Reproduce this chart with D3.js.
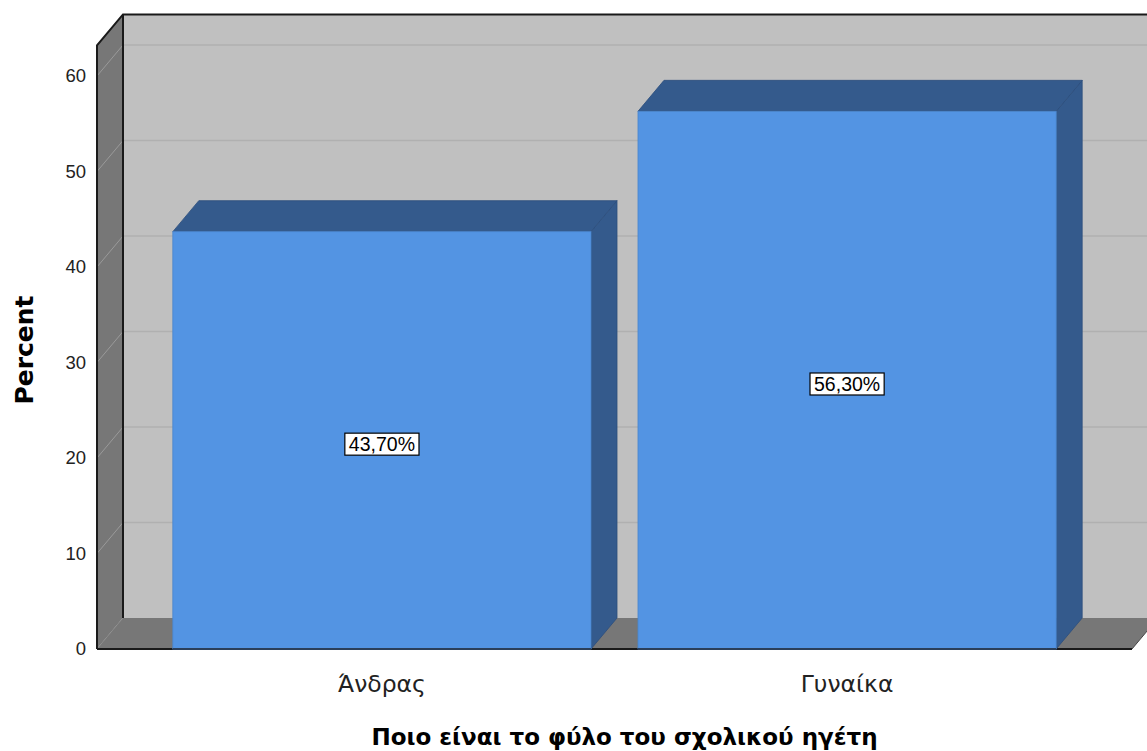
<!DOCTYPE html>
<html><head><meta charset="utf-8">
<script src="https://cdn.jsdelivr.net/npm/d3@7"></script>
<style>body{margin:0;background:#fff;}svg{display:block;}</style>
</head><body>
<svg id="chart" width="1147" height="751"></svg>
<script>
const categories = ["Άνδρας", "Γυναίκα"];
const percentValues = [43.7, 56.3];
const valueLabels = ["43,70%", "56,30%"];
const yTicks = [0, 10, 20, 30, 40, 50, 60];
const xTitle = "Ποιο είναι το φύλο του σχολικού ηγέτη";
const yTitle = "Percent";

const svg = d3.select("#chart");
const DX = 26, DY = -31;
const y = d3.scaleLinear().domain([0, 60]).range([649, 76]);
const yMaxWall = 63.2;
const x = d3.scaleBand().domain(categories).range([97, 1132]).paddingInner(0.101).paddingOuter(0.163);
const xL = 97, xR = 1132;
const y0 = y(0), yTop = y(yMaxWall);

const pts = a => a.map(p => p.join(",")).join(" ");

// back wall
svg.append("polygon").attr("points", pts([[xL+DX, yTop+DY],[1200, yTop+DY],[1200, y0+DY],[xL+DX, y0+DY]]))
  .attr("fill", "#c0c0c0");
// back wall gridlines
svg.selectAll(".bg").data(yTicks.filter(d => d > 0)).enter().append("line")
  .attr("x1", xL+DX).attr("x2", 1200).attr("y1", d => y(d)+DY).attr("y2", d => y(d)+DY)
  .attr("stroke", "#b0b0b0").attr("stroke-width", 1.5);
// left wall
svg.append("polygon").attr("points", pts([[xL, yTop],[xL+DX, yTop+DY],[xL+DX, y0+DY],[xL, y0]]))
  .attr("fill", "#777777");
svg.selectAll(".lg").data(yTicks).enter().append("line")
  .attr("x1", xL).attr("x2", xL+DX).attr("y1", d => y(d)).attr("y2", d => y(d)+DY)
  .attr("stroke", "#9a9a9a").attr("stroke-width", 1);
// floor
svg.append("polygon").attr("points", pts([[xL, y0],[xL+DX, y0+DY],[1200, y0+DY],[xR, y0]]))
  .attr("fill", "#777777");
svg.append("polygon").attr("points", pts([[xR, y0],[xR+DX, y0+DY],[1200, y0+DY],[1200, y0]]))
  .attr("fill", "#ffffff");
// outlines
svg.append("path").attr("d", `M${xL},${y0} L${xL},${yTop} L${xL+DX},${yTop+DY} L1200,${yTop+DY}`)
  .attr("fill", "none").attr("stroke", "#1a1a1a").attr("stroke-width", 2);
svg.append("line").attr("x1", xL+DX).attr("x2", xL+DX).attr("y1", yTop+DY).attr("y2", y0+DY)
  .attr("stroke", "#1a1a1a").attr("stroke-width", 2);
svg.append("line").attr("x1", xL).attr("x2", xR).attr("y1", y0).attr("y2", y0)
  .attr("stroke", "#1a1a1a").attr("stroke-width", 2);
svg.append("line").attr("x1", xR).attr("x2", xR+DX).attr("y1", y0).attr("y2", y0+DY)
  .attr("stroke", "#444").attr("stroke-width", 1);

// bars
const bars = svg.selectAll(".bar").data(categories).enter().append("g");
bars.append("polygon").attr("points", (d, i) => {
  const x1 = x(d) + x.bandwidth(), yt = y(percentValues[i]);
  return pts([[x1, yt],[x1+DX, yt+DY],[x1+DX, y0+DY],[x1, y0]]);
}).attr("fill", "#345a8c").attr("stroke", "#2c4e7c").attr("stroke-width", 0.8);
bars.append("polygon").attr("points", (d, i) => {
  const x0 = x(d), x1 = x(d) + x.bandwidth(), yt = y(percentValues[i]);
  return pts([[x0, yt],[x0+DX, yt+DY],[x1+DX, yt+DY],[x1, yt]]);
}).attr("fill", "#345a8c").attr("stroke", "#2c4e7c").attr("stroke-width", 0.8);
bars.append("rect").attr("x", d => x(d)).attr("y", (d, i) => y(percentValues[i]))
  .attr("width", x.bandwidth()).attr("height", (d, i) => y0 - y(percentValues[i]))
  .attr("fill", "#5394e3").attr("stroke", "#4a85cc").attr("stroke-width", 0.8);
bars.append("line").attr("x1", d => x(d)).attr("x2", d => x(d) + x.bandwidth())
  .attr("y1", y0).attr("y2", y0).attr("stroke", "#2b3f5a").attr("stroke-width", 2);

// value labels
const lab = svg.selectAll(".vl").data(categories).enter().append("g")
  .attr("transform", (d, i) => `translate(${x(d) + x.bandwidth()/2},${(y0 + y(percentValues[i]))/2 + 4})`);
lab.append("text").attr("text-anchor", "middle").attr("dy", "0.35em")
  .attr("font-family", "Liberation Sans, Arial, sans-serif").attr("font-size", 19.5)
  .attr("fill", "#000").text((d, i) => valueLabels[i]);
lab.each(function() {
  const g = d3.select(this), bb = g.select("text").node().getBBox();
  g.insert("rect", "text").attr("x", bb.x - 4).attr("y", bb.y).attr("width", bb.width + 8).attr("height", bb.height)
    .attr("fill", "#fff").attr("stroke", "#000").attr("stroke-width", 1.2);
});

// y tick labels
svg.selectAll(".yt").data(yTicks).enter().append("text")
  .attr("x", 86).attr("y", d => y(d)).attr("dy", "0.35em").attr("text-anchor", "end")
  .attr("font-family", "Liberation Sans, Arial, sans-serif").attr("font-size", 18.5).attr("fill", "#222")
  .text(d => d);

// category labels
svg.selectAll(".xl").data(categories).enter().append("text")
  .attr("x", d => x(d) + x.bandwidth()/2).attr("y", 692).attr("text-anchor", "middle")
  .attr("font-family", "DejaVu Sans, sans-serif").attr("font-size", 23.5).attr("fill", "#222")
  .text(d => d);

// titles
svg.append("text").attr("x", (x(categories[0]) + x(categories[1]) + x.bandwidth())/2 + 10).attr("y", 745)
  .attr("text-anchor", "middle").attr("font-family", "DejaVu Sans, sans-serif").attr("font-weight", "bold")
  .attr("font-size", 23).attr("fill", "#000").text(xTitle);
svg.append("text").attr("transform", "translate(33,350) rotate(-90)").attr("text-anchor", "middle")
  .attr("font-family", "DejaVu Sans, sans-serif").attr("font-weight", "bold")
  .attr("font-size", 25).attr("fill", "#000").text(yTitle);
</script>
</body></html>
